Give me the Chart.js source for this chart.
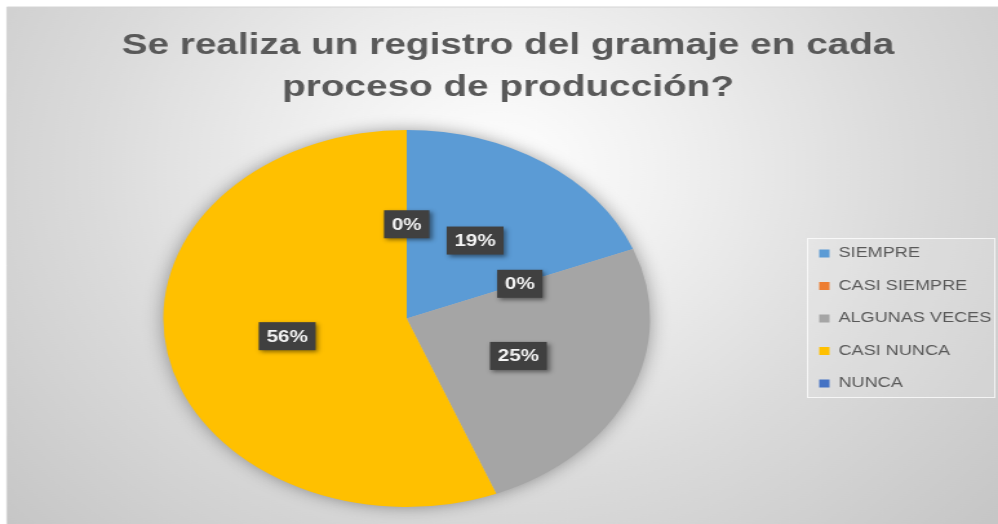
<!DOCTYPE html>
<html>
<head>
<meta charset="utf-8">
<script src="https://cdn.jsdelivr.net/npm/chart.js@4/dist/chart.umd.min.js"></script>
<style>
  html, body { margin: 0; padding: 0; background: #ffffff; overflow: hidden; }
  #wrap { position: absolute; left: 0; top: 0; width: 773px; height: 524px;
          transform: scaleX(1.2910737); transform-origin: 0 0; }
  #c { width: 773px; height: 524px; display: block; }
</style>
</head>
<body>
<div id="wrap"><canvas id="c" width="773" height="524"></canvas></div>
<script>
// ---- data ----
const titleLines = ['Se realiza un registro del gramaje en cada', 'proceso de producción?'];
const categories = ['SIEMPRE', 'CASI SIEMPRE', 'ALGUNAS VECES', 'CASI NUNCA', 'NUNCA'];
const percentages = [19, 0, 25, 56, 0];

// ---- styles ----
const sliceColors = ['#5B9BD5', '#ED7D31', '#A5A5A5', '#FFC000', '#4472C4'];
const FONT = "'Liberation Sans', Arial, sans-serif";

const backgroundPlugin = {
  id: 'bg',
  beforeDraw(chart) {
    const ctx = chart.ctx;
    const W = chart.width, H = chart.height;
    ctx.save();
    ctx.fillStyle = '#ffffff';
    ctx.fillRect(0, 0, W, H);
    const x0 = 5.4, y0 = 7;
    const g = ctx.createRadialGradient(385, 170, 0, 385, 170, 520);
    g.addColorStop(0, '#ffffff');
    g.addColorStop(0.25, '#f1f1f1');
    g.addColorStop(0.6, '#dbdbdb');
    g.addColorStop(1, '#c6c6c6');
    ctx.fillStyle = g;
    ctx.fillRect(x0, y0, W - x0, H - y0);
    ctx.strokeStyle = '#d4d4d4';
    ctx.lineWidth = 1;
    ctx.beginPath();
    ctx.moveTo(x0, H); ctx.lineTo(x0, y0); ctx.lineTo(W, y0);
    ctx.stroke();
    // legend frame
    const lg = chart.legend;
    if (lg && lg.legendHitBoxes && lg.legendHitBoxes.length) {
      const hb = lg.legendHitBoxes;
      const top = hb[0].top - 8.5;
      const bottom = hb[hb.length - 1].top + hb[hb.length - 1].height + 7.5;
      const left = hb[0].left - 9.5;
      const right = W - 2;
      ctx.fillStyle = 'rgba(255,255,255,0.12)';
      ctx.fillRect(left, top, right - left, bottom - top);
      ctx.strokeStyle = 'rgba(255,255,255,0.75)';
      ctx.strokeRect(left + 0.5, top + 0.5, right - left - 1, bottom - top - 1);
    }
    ctx.restore();
  }
};

const pieShadowPlugin = {
  id: 'pieShadow',
  beforeDatasetsDraw(chart) {
    const meta = chart.getDatasetMeta(0);
    const arc = meta.data[0];
    if (!arc) return;
    const ctx = chart.ctx;
    ctx.save();
    ctx.shadowColor = 'rgba(0,0,0,0.4)';
    ctx.shadowBlur = 16;
    ctx.fillStyle = '#bbbbbb';
    ctx.beginPath();
    ctx.arc(arc.x, arc.y, arc.outerRadius - 1, 0, Math.PI * 2);
    ctx.fill();
    ctx.restore();
  }
};

const labelPlugin = {
  id: 'boxLabels',
  afterDatasetsDraw(chart) {
    const ctx = chart.ctx;
    const meta = chart.getDatasetMeta(0);
    const data = chart.data.datasets[0].data;
    ctx.save();
    ctx.font = 'bold 16px ' + FONT;
    ctx.textAlign = 'center';
    ctx.textBaseline = 'middle';
    meta.data.forEach((el, i) => {
      const p = el.tooltipPosition();
      const text = data[i] + '%';
      const tw = ctx.measureText(text).width;
      const w = tw + 12, h = 28;
      ctx.save();
      ctx.shadowColor = 'rgba(0,0,0,0.45)';
      ctx.shadowBlur = 4;
      ctx.shadowOffsetX = 2;
      ctx.shadowOffsetY = 2;
      ctx.fillStyle = '#404040';
      ctx.fillRect(p.x - w / 2, p.y - h / 2, w, h);
      ctx.restore();
      ctx.fillStyle = '#f4f4f4';
      ctx.fillText(text, p.x, p.y + 1);
    });
    ctx.restore();
  }
};

new Chart(document.getElementById('c'), {
  type: 'pie',
  data: {
    labels: categories,
    datasets: [{
      data: percentages,
      backgroundColor: sliceColors,
      borderWidth: 0
    }]
  },
  options: {
    responsive: false,
    animation: false,
    devicePixelRatio: 1,
    layout: { padding: { top: 0, bottom: 17, left: 14, right: 0 } },
    plugins: {
      title: {
        display: true,
        text: titleLines,
        color: '#595959',
        font: { family: FONT, weight: 'bold', size: 30, lineHeight: 1.4 },
        padding: { top: 25, bottom: 21 }
      },
      legend: {
        position: 'right',
        fullSize: false,
        maxWidth: 157,
        labels: {
          color: '#595959',
          font: { family: FONT, size: 14 },
          boxWidth: 8,
          boxHeight: 8,
          padding: 18.5
        }
      },
      tooltip: { enabled: false }
    }
  },
  plugins: [backgroundPlugin, pieShadowPlugin, labelPlugin]
});
</script>
</body>
</html>
